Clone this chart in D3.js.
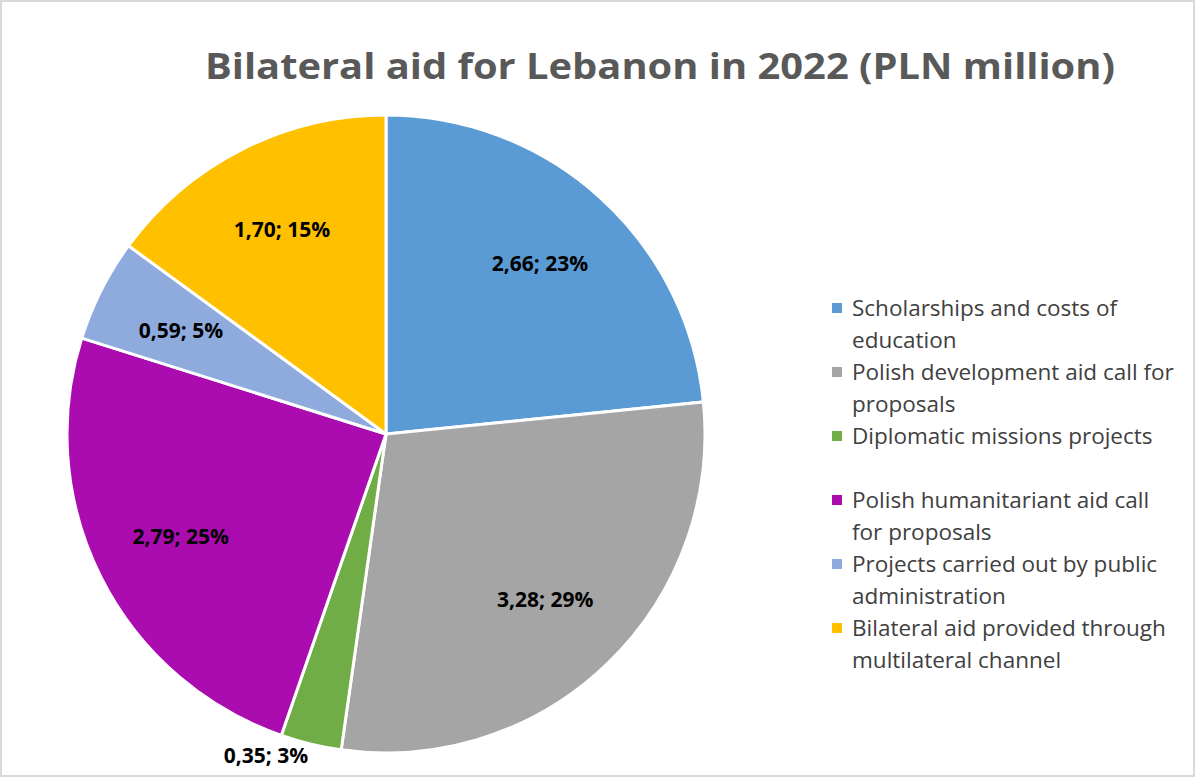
<!DOCTYPE html>
<html>
<head>
<meta charset="utf-8">
<title>Bilateral aid for Lebanon in 2022</title>
<script src="https://cdn.jsdelivr.net/npm/d3@7"></script>
<style>
  body { margin: 0; background: #fff; }
  svg { font-family: "Open Sans", "Noto Sans", sans-serif; }
</style>
</head>
<body>
<div id="chart"></div>
<script>
// data
var categories = [
    "Scholarships and costs of education",
    "Polish development aid call for proposals",
    "Diplomatic missions projects",
    "Polish humanitariant aid call for proposals",
    "Projects carried out by public administration",
    "Bilateral aid provided through multilateral channel"
];
var values = [2.66, 3.28, 0.35, 2.79, 0.59, 1.70];
// legend lines as Excel wrapped them
var legendLines = [
    ["Scholarships and costs of", "education"],
    ["Polish development aid call for", "proposals"],
    ["Diplomatic missions projects"],
    ["Polish humanitariant aid call", "for proposals"],
    ["Projects carried out by public", "administration"],
    ["Bilateral aid provided through", "multilateral channel"]
];
var colors = ["#5b9bd5", "#a5a5a5", "#70ad47", "#ab0cb0", "#8faadc", "#ffc000"];

var width = 1195,
    height = 778,
    cx = 386,
    cy = 434,
    radius = 319;

var svg = d3.select("#chart").append("svg")
    .attr("width", width)
    .attr("height", height);

// chart area border
svg.append("rect")
    .attr("x", 1).attr("y", 1)
    .attr("width", width - 2).attr("height", height - 3)
    .attr("fill", "#fff")
    .attr("stroke", "#d9d9d9")
    .attr("stroke-width", 2);

// title
svg.append("text")
    .attr("x", 205)
    .attr("y", 79)
    .attr("textLength", 910)
    .attr("lengthAdjust", "spacingAndGlyphs")
    .style("font-size", "36px")
    .style("font-weight", "bold")
    .style("fill", "#595959")
    .text("Bilateral aid for Lebanon in 2022 (PLN million)");

var total = d3.sum(values);
var pie = d3.pie().sort(null).value(function(d) { return d; });
var arcs = pie(values);
var arc = d3.arc().innerRadius(0).outerRadius(radius);
var labelArc = d3.arc().innerRadius(radius * 0.72).outerRadius(radius * 0.72);

var g = svg.append("g").attr("transform", "translate(" + cx + "," + cy + ")");

g.selectAll("path.slice")
    .data(arcs)
    .enter().append("path")
    .attr("class", "slice")
    .attr("d", arc)
    .attr("fill", function(d, i) { return colors[i]; })
    .attr("stroke", "#fff")
    .attr("stroke-width", 3);

function fmt(v) { return d3.format(".2f")(v).replace(".", ","); }

g.selectAll("text.lbl")
    .data(arcs)
    .enter().append("text")
    .attr("class", "lbl")
    .each(function(d, i) {
        var t = d3.select(this);
        var mid = (d.startAngle + d.endAngle) / 2;
        if ((d.endAngle - d.startAngle) < 0.2 && mid > Math.PI && mid < Math.PI * 1.25) {
            // thin slice: label sits outside the pie
            var r = radius + 12;
            var x = r * Math.sin(mid), y = -r * Math.cos(mid);
            y = Math.min(y, height - cy - 18);
            t.attr("x", x).attr("y", y).attr("dy", "0.35em")
                .attr("text-anchor", "end");
        } else {
            var c = labelArc.centroid(d);
            t.attr("x", c[0]).attr("y", c[1]).attr("dy", "0.35em")
                .attr("text-anchor", "middle");
        }
    })
    .style("font-size", "21px")
    .style("font-weight", "bold")
    .style("fill", "#000")
    .text(function(d, i) { return fmt(values[i]) + "; " + Math.round(values[i] / total * 100) + "%"; });

// legend
var legend = svg.append("g").attr("transform", "translate(832,316)");
var item = legend.selectAll("g.item")
    .data(categories)
    .enter().append("g")
    .attr("class", "item")
    .attr("transform", function(d, i) { return "translate(0," + (i * 64) + ")"; });

item.append("rect")
    .attr("x", 0).attr("y", -13)
    .attr("width", 10).attr("height", 10)
    .attr("fill", function(d, i) { return colors[i]; });

item.append("text")
    .attr("x", 20)
    .style("font-size", "22.5px")
    .style("fill", "#404040")
    .selectAll("tspan")
    .data(function(d, i) { return legendLines[i]; })
    .enter().append("tspan")
    .attr("x", 20)
    .attr("y", function(d, j) { return j * 32; })
    .text(function(d) { return d; });
</script>
</body>
</html>
